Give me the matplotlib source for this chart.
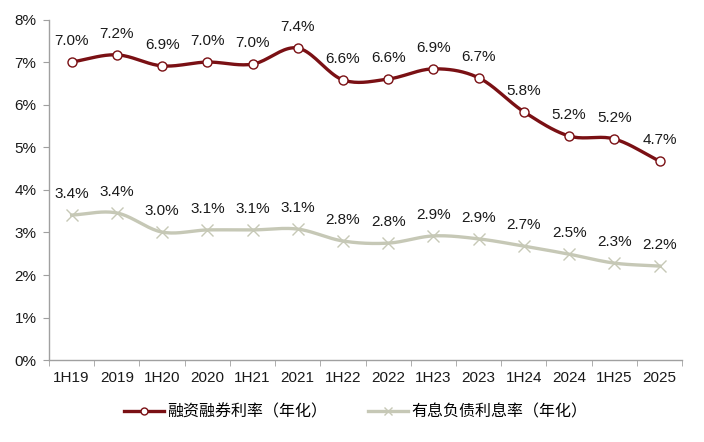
import numpy as np
import matplotlib
matplotlib.use("Agg")
import matplotlib.pyplot as plt
from matplotlib.ticker import FixedLocator

plt.rcParams['font.family'] = ['Liberation Sans', 'Noto Sans CJK SC', 'DejaVu Sans']

categories = ["1H19", "2019", "1H20", "2020", "1H21", "2021", "1H22", "2022",
              "1H23", "2023", "1H24", "2024", "1H25", "2025"]
margin_rate = [7.0, 7.2, 6.9, 7.0, 7.0, 7.4, 6.6, 6.6, 6.9, 6.7, 5.8, 5.2, 5.2, 4.7]
margin_plot = [7.01, 7.18, 6.92, 7.01, 6.96, 7.34, 6.59, 6.61, 6.85, 6.64, 5.84, 5.27, 5.20, 4.68]
debt_rate = [3.4, 3.4, 3.0, 3.1, 3.1, 3.1, 2.8, 2.8, 2.9, 2.9, 2.7, 2.5, 2.3, 2.2]
debt_plot = [3.41, 3.46, 3.01, 3.06, 3.06, 3.08, 2.80, 2.75, 2.92, 2.85, 2.68, 2.49, 2.28, 2.21]
series_names = ["融资融券利率（年化）", "有息负债利息率（年化）"]


def smooth(xs, ys, n=20):
    # Catmull-Rom rendering of the line through the data points
    xs = np.asarray(xs, float); ys = np.asarray(ys, float)
    px = np.concatenate([[2 * xs[0] - xs[1]], xs, [2 * xs[-1] - xs[-2]]])
    py = np.concatenate([[2 * ys[0] - ys[1]], ys, [2 * ys[-1] - ys[-2]]])
    ox, oy = [], []
    t = np.linspace(0, 1, n, endpoint=False)
    for i in range(1, len(px) - 2):
        for arr, out in ((px, ox), (py, oy)):
            p0, p1, p2, p3 = arr[i - 1], arr[i], arr[i + 1], arr[i + 2]
            out.extend(0.5 * ((2 * p1) + (-p0 + p2) * t + (2 * p0 - 5 * p1 + 4 * p2 - p3) * t ** 2
                              + (-p0 + 3 * p1 - 3 * p2 + p3) * t ** 3))
    ox.append(xs[-1]); oy.append(ys[-1])
    return np.array(ox), np.array(oy)


fig = plt.figure(figsize=(7.04, 4.42), dpi=100)
ax = fig.add_axes([0.0696, 0.1855, 0.8994, 0.7693])

x = np.arange(len(categories))
red = "#7A1014"
gray = "#C6C8B6"

sx, sy = smooth(x, margin_plot)
ax.plot(sx, sy, color=red, lw=2.4, zorder=3)
ax.plot(x, margin_plot, ls='none', marker='o', ms=6.5, mfc='white', mec=red, mew=1.0, zorder=4)
sx2, sy2 = smooth(x, debt_plot)
ax.plot(sx2, sy2, color=gray, lw=2.4, zorder=3)
ax.plot(x, debt_plot, ls='none', marker='x', ms=8, mec=gray, mew=1.0, zorder=4)

for xi, v, lab in zip(x, margin_plot, margin_rate):
    ax.annotate(f"{lab:.1f}%", (xi, v), xytext=(0, 10), textcoords='offset points',
                ha='center', va='bottom', fontsize=11, color='#1A1A1A')
for xi, v, lab in zip(x, debt_plot, debt_rate):
    ax.annotate(f"{lab:.1f}%", (xi, v), xytext=(0, 10), textcoords='offset points',
                ha='center', va='bottom', fontsize=11, color='#1A1A1A')

# legend proxies
h1, = ax.plot([], [], color=red, lw=2.4, marker='o', ms=5, mfc='white', mec=red)
h2, = ax.plot([], [], color=gray, lw=2.4, marker='x', ms=6, mec=gray)
fig.legend([h1, h2], series_names, loc='center', bbox_to_anchor=(0.505, 0.068), ncol=2,
           frameon=False, fontsize=11.5, handlelength=2.5, columnspacing=2.6, handletextpad=0.2)

ax.set_xlim(-0.5, len(categories) - 0.5)
ax.set_ylim(0, 8)
ax.set_yticks(range(0, 9))
ax.set_yticklabels([f"{i}%" for i in range(0, 9)], fontsize=11, color='#1A1A1A')
ax.set_xticks(x)
ax.set_xticklabels(categories, fontsize=11, color='#1A1A1A')
ax.xaxis.set_major_locator(FixedLocator(x))
ax.tick_params(axis='x', length=0, pad=8)
ax.set_xticks(np.arange(-0.5, len(categories) + 0.5, 1), minor=True)
ax.tick_params(axis='x', which='minor', length=4, color='#A0A0A0', direction='out')
ax.tick_params(axis='y', length=4, color='#A0A0A0', direction='out', pad=5)

for s in ['top', 'right']:
    ax.spines[s].set_visible(False)
for s in ['left', 'bottom']:
    ax.spines[s].set_color('#A0A0A0')
    ax.spines[s].set_linewidth(1.0)

fig.savefig("out.png", dpi=100)
